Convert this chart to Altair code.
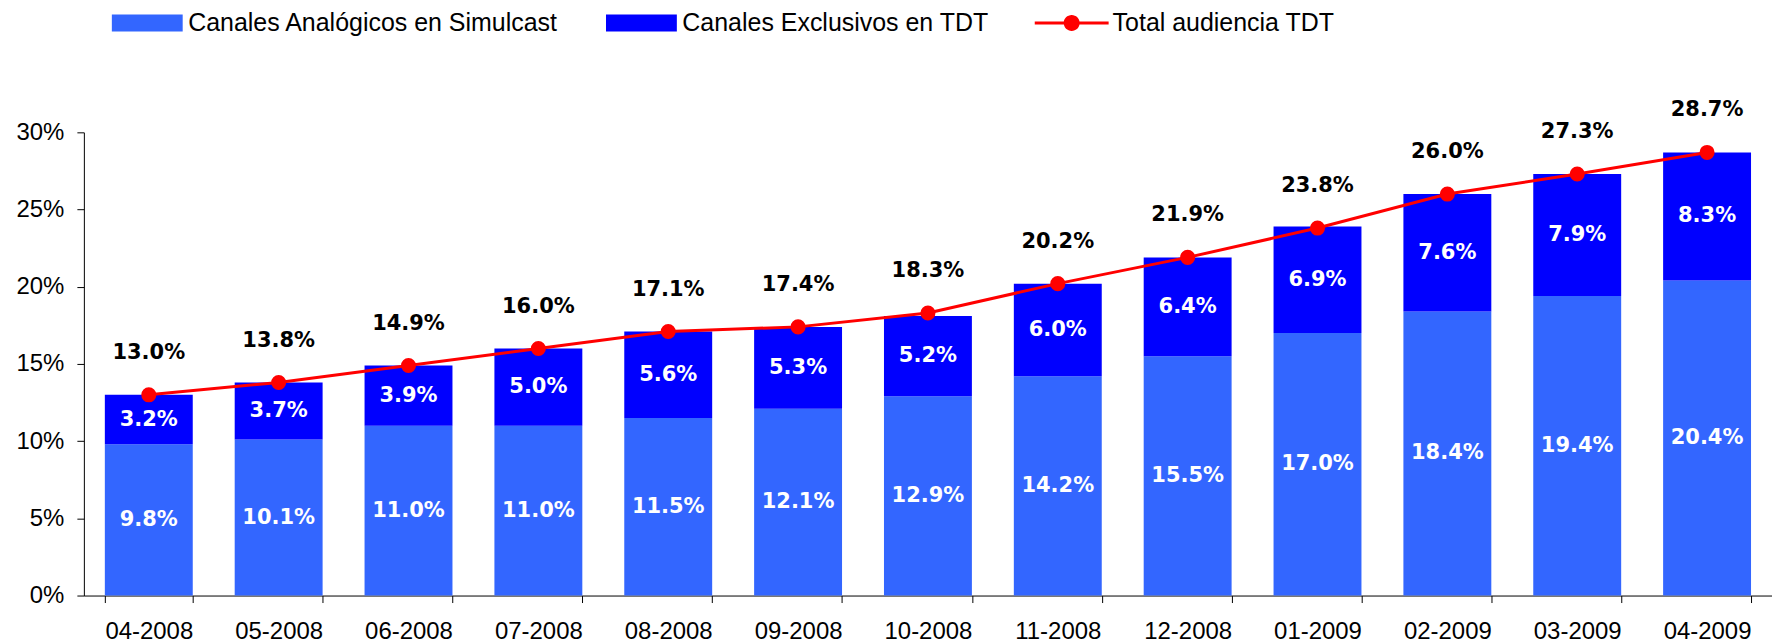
import altair as alt
import pandas as pd

months = ["04-2008", "05-2008", "06-2008", "07-2008", "08-2008", "09-2008", "10-2008",
          "11-2008", "12-2008", "01-2009", "02-2009", "03-2009", "04-2009"]
analog = [9.8, 10.1, 11.0, 11.0, 11.5, 12.1, 12.9, 14.2, 15.5, 17.0, 18.4, 19.4, 20.4]
exclusive = [3.2, 3.7, 3.9, 5.0, 5.6, 5.3, 5.2, 6.0, 6.4, 6.9, 7.6, 7.9, 8.3]
total = [13.0, 13.8, 14.9, 16.0, 17.1, 17.4, 18.3, 20.2, 21.9, 23.8, 26.0, 27.3, 28.7]
series_names = ["Canales Analógicos en Simulcast", "Canales Exclusivos en TDT", "Total audiencia TDT"]
series_colors = ["#3366FF", "#0000FF", "#FF0000"]
y_ticks = [0, 5, 10, 15, 20, 25, 30]

shape_paths = [
    "M-0.959,-0.23H0.959V0.23H-0.959Z",
    "M-0.959,-0.23H0.959V0.23H-0.959Z",
    "M-1,-0.04H-0.2V0.04H-1Z M0.2,-0.04H1V0.04H0.2Z "
    "M0.216,0A0.216,0.216 0 1,1 -0.216,0A0.216,0.216 0 1,1 0.216,0Z",
]

n = len(months)
bars_df = pd.DataFrame({
    "month": months * 2,
    "series": [series_names[0]] * n + [series_names[1]] * n,
    "value": analog + exclusive,
    "order": [0] * n + [1] * n,
})
seg_df = pd.DataFrame({
    "month": months * 2,
    "mid": [a / 2 for a in analog] + [a + e / 2 for a, e in zip(analog, exclusive)],
    "label": [f"{v:.1f}%" for v in analog + exclusive],
})
tot_df = pd.DataFrame({
    "month": months,
    "total": total,
    "label": [f"{v:.1f}%" for v in total],
})
legend_df = pd.DataFrame({"series": series_names})

AXIS_FONT = "Liberation Sans"
LABEL_FONT = "DejaVu Sans"

x_enc = alt.X(
    "month:N", sort=months,
    scale=alt.Scale(paddingInner=0.323, paddingOuter=0.1615),
    axis=alt.Axis(title=None, labelAngle=0, labelFont=AXIS_FONT, labelFontSize=24,
                  labelColor="#000000", tickBand="extent", tickSize=7, tickColor="#000000",
                  domainColor="#000000", labelPadding=17, grid=False),
)
y_axis = alt.Axis(title=None, values=y_ticks, labelExpr="datum.value + '%'", grid=False,
                  tickSize=7, tickColor="#000000", domainColor="#000000",
                  labelFont=AXIS_FONT, labelFontSize=24, labelColor="#000000", labelPadding=13)
y_scale = alt.Scale(domain=[0, 30], nice=False)

color_scale = alt.Scale(domain=series_names, range=series_colors)

legend_layer = alt.Chart(legend_df).mark_point(filled=True, size=0, opacity=1, fillOpacity=1).encode(
    color=alt.Color(
        "series:N", scale=color_scale,
        legend=alt.Legend(
            orient="none", legendX=26.5, legendY=-146.5, direction="horizontal", title=None,
            labelFont=AXIS_FONT, labelFontSize=25, labelColor="#000000", labelLimit=1000,
            symbolSize=5476, symbolOpacity=1, symbolStrokeWidth=0, columnPadding=45,
            labelOffset=4, padding=0,
        ),
    ),
    shape=alt.Shape("series:N", scale=alt.Scale(domain=series_names, range=shape_paths)),
)

bars = alt.Chart(bars_df).mark_bar().encode(
    x=x_enc,
    y=alt.Y("value:Q", stack="zero", scale=y_scale, axis=y_axis),
    color=alt.Color("series:N", scale=color_scale, legend=None),
    order=alt.Order("order:Q"),
)

seg_text = alt.Chart(seg_df).mark_text(
    font=LABEL_FONT, fontSize=21, fontWeight="bold", color="white", baseline="middle"
).encode(
    x=x_enc,
    y=alt.Y("mid:Q", scale=y_scale, axis=y_axis),
    text="label:N",
)

line = alt.Chart(tot_df).mark_line(color="#FF0000", strokeWidth=3).encode(
    x=x_enc,
    y=alt.Y("total:Q", scale=y_scale, axis=y_axis),
)
points = alt.Chart(tot_df).mark_point(filled=True, color="#FF0000", size=227, opacity=1).encode(
    x=x_enc,
    y=alt.Y("total:Q", scale=y_scale, axis=y_axis),
)
tot_text = alt.Chart(tot_df).mark_text(
    font=LABEL_FONT, fontSize=21, fontWeight="bold", color="#000000", baseline="middle", dy=-42
).encode(
    x=x_enc,
    y=alt.Y("total:Q", scale=y_scale, axis=y_axis),
    text="label:N",
)

chart = alt.layer(legend_layer, bars, seg_text, line, points, tot_text).properties(
    width=1691, height=464,
    autosize=alt.AutoSizeParams(type="none"),
    padding={"left": 76, "top": 124, "right": 0, "bottom": 48},
    background="white",
).configure_view(stroke=None)

chart.save("out.html", embed_options={"renderer": "svg", "actions": False})
